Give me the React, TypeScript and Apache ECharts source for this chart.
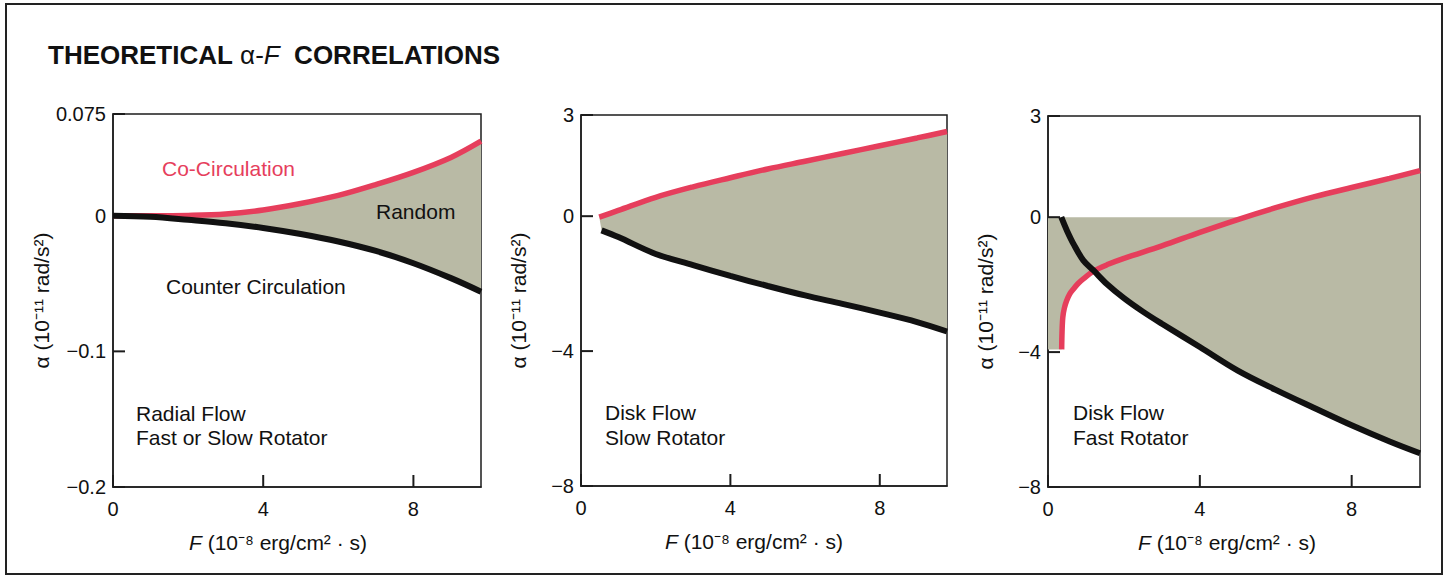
import React, { useEffect, useRef } from 'react';
import * as echarts from 'echarts';

// ---------- data ----------
const F_TICKS = [0, 4, 8];
const F_MIN = 0;
const F_MAX = 9.8;

const P1_Y_TICKS = [0.075, 0, -0.1, -0.2];
const P1_Y_MIN = -0.2;
const P1_Y_MAX = 0.075;
const P23_Y_TICKS = [3, 0, -4, -8];
const P23_Y_MIN = -8;
const P23_Y_MAX = 3;

// Panel 1: Radial flow
const P1_CO: number[][] = [[0, 0], [1, 0], [2, 0.0002], [3, 0.0012], [4, 0.0042], [5, 0.009], [6, 0.015], [7, 0.023], [8, 0.032], [9, 0.043], [9.8, 0.055]];
const P1_COUNTER: number[][] = [[0, 0], [1, -0.0008], [2, -0.003], [3, -0.0055], [4, -0.009], [5, -0.0135], [6, -0.019], [7, -0.026], [8, -0.035], [9, -0.046], [9.8, -0.056]];

// Panel 2: Disk flow, slow rotator
const P2_CO: number[][] = [[0.49, -0.03], [1, 0.17], [2, 0.56], [3, 0.87], [4, 1.14], [5, 1.4], [6, 1.63], [7, 1.86], [8, 2.09], [9, 2.32], [9.8, 2.51]];
const P2_COUNTER: number[][] = [[0.55, -0.42], [1, -0.62], [2, -1.12], [3, -1.45], [4, -1.77], [5, -2.07], [6, -2.35], [7, -2.6], [8, -2.86], [9, -3.14], [9.8, -3.42]];

// Panel 3: Disk flow, fast rotator
const P3_CO: number[][] = [[0.36, -3.92], [0.37, -3.4], [0.39, -2.97], [0.43, -2.7], [0.49, -2.48], [0.57, -2.28], [0.67, -2.13], [0.8, -1.96], [0.93, -1.83], [1.2, -1.6], [1.6, -1.39], [2, -1.22], [3, -0.85], [4, -0.45], [5, -0.07], [6, 0.28], [7, 0.6], [8, 0.88], [9, 1.15], [9.8, 1.38]];
const P3_COUNTER: number[][] = [[0.35, 0], [0.5, -0.4], [0.67, -0.79], [0.93, -1.28], [1.2, -1.58], [1.55, -1.98], [2, -2.4], [2.5, -2.8], [3, -3.16], [4, -3.85], [5, -4.55], [6, -5.12], [7, -5.65], [8, -6.17], [9, -6.65], [9.8, -7.0]];
const P3_CROSS: number[] = [1.2, -1.59]; // where the two curves cross
const P3_ZERO_F = 5.2; // where co-circulation crosses zero

// ---------- styles ----------
const RED = '#e63e5c';
const BLACK = '#111111';
const FILL = '#b9baa5';
const FRAME = '#1c1c1c';
const FONT = '"Liberation Sans", Arial, Helvetica, sans-serif';
const LABEL_SIZE = 21;
const TICK_SIZE = 20;
const TICK_LEN = 12;

function betweenPolygon(upper: number[][], lower: number[][]): number[][] {
  return [...upper, ...lower.slice().reverse()];
}

function panel3Polygon(): number[][] {
  const pts: number[][] = [];
  pts.push([F_MIN, 0]);
  pts.push([P3_ZERO_F, 0]);
  P3_CO.filter((p) => p[0] > P3_ZERO_F).forEach((p) => pts.push(p));
  P3_COUNTER.filter((p) => p[0] > P3_CROSS[0]).reverse().forEach((p) => pts.push(p));
  pts.push(P3_CROSS);
  P3_CO.filter((p) => p[0] < P3_CROSS[0]).reverse().forEach((p) => pts.push(p));
  pts.push([F_MIN, P3_CO[0][1]]);
  return pts;
}

const POLYS = [
  betweenPolygon(P1_CO, P1_COUNTER),
  betweenPolygon(P2_CO, P2_COUNTER),
  panel3Polygon(),
];

const fmt = (v: number) => String(v).replace('-', '\u2212');

export default function App() {
  const ref = useRef<HTMLDivElement>(null);

  useEffect(() => {
    if (!ref.current) return;
    const chart = echarts.init(ref.current, undefined, { renderer: 'svg' });

    const grids = [
      { left: 113, top: 114, width: 368, height: 373 },
      { left: 581, top: 115, width: 366, height: 371 },
      { left: 1048, top: 116, width: 372, height: 371 },
    ].map((g) => ({ ...g, show: true, borderColor: FRAME, borderWidth: 1.5, backgroundColor: 'transparent' }));

    const xNamePad = [[0, 38, 0, 0], [0, 20, 0, 0], [0, 14, 0, 0]];

    const xAxes = [0, 1, 2].map((i) => ({
      type: 'value',
      gridIndex: i,
      min: F_MIN,
      max: F_MAX,
      interval: 4,
      axisLine: { show: true, onZero: false, lineStyle: { color: FRAME, width: 1.5 } },
      axisTick: { show: false },
      axisLabel: { customValues: F_TICKS, margin: 12, fontSize: TICK_SIZE, color: BLACK, fontFamily: FONT, formatter: fmt },
      splitLine: { show: false },
      name: '{i|F} (10\u207B\u2078 erg/cm\u00B2 \u00B7 s)',
      nameLocation: 'middle',
      nameGap: 45,
      nameTextStyle: {
        fontSize: LABEL_SIZE,
        color: BLACK,
        fontFamily: FONT,
        padding: xNamePad[i],
        rich: { i: { fontStyle: 'italic', fontSize: LABEL_SIZE, color: BLACK, fontFamily: FONT } },
      },
    }));

    const yTicks = [P1_Y_TICKS, P23_Y_TICKS, P23_Y_TICKS];
    const yMin = [P1_Y_MIN, P23_Y_MIN, P23_Y_MIN];
    const yMax = [P1_Y_MAX, P23_Y_MAX, P23_Y_MAX];
    const yAxes = [0, 1, 2].map((i) => ({
      type: 'value',
      gridIndex: i,
      min: yMin[i],
      max: yMax[i],
      axisLine: { show: true, onZero: false, lineStyle: { color: FRAME, width: 1.5 } },
      axisTick: { show: false },
      axisLabel: { customValues: yTicks[i], margin: 7, fontSize: TICK_SIZE, color: BLACK, fontFamily: FONT, formatter: fmt },
      splitLine: { show: false },
      name: '\u03B1 (10\u207B\u00B9\u00B9 rad/s\u00B2)',
      nameLocation: 'middle',
      nameRotate: 90,
      nameGap: 52,
      nameTextStyle: { fontSize: LABEL_SIZE, color: BLACK, fontFamily: FONT },
    }));

    const curves = [
      [P1_CO, P1_COUNTER],
      [P2_CO, P2_COUNTER],
      [P3_CO, P3_COUNTER],
    ];

    const series: any[] = [];
    [0, 1, 2].forEach((i) => {
      const poly = POLYS[i];
      series.push({
        type: 'custom',
        xAxisIndex: i,
        yAxisIndex: i,
        silent: true,
        z: 1,
        data: [[poly[0][0], poly[0][1]]],
        renderItem: (_params: any, api: any) => ({
          type: 'polygon',
          shape: { points: poly.map((p) => api.coord(p)) },
          style: { fill: FILL, stroke: 'none' },
        }),
      });
      // inward x ticks on the bottom axis
      series.push({
        type: 'custom',
        xAxisIndex: i,
        yAxisIndex: i,
        silent: true,
        clip: false,
        z: 2,
        data: F_TICKS.map((v) => [v, yMin[i]]),
        renderItem: (_params: any, api: any) => {
          const p = api.coord([api.value(0), api.value(1)]);
          return {
            type: 'line',
            shape: { x1: p[0], y1: p[1], x2: p[0], y2: p[1] - TICK_LEN },
            style: { stroke: FRAME, lineWidth: 2 },
          };
        },
      });
      // inward y ticks on the left axis
      series.push({
        type: 'custom',
        xAxisIndex: i,
        yAxisIndex: i,
        silent: true,
        clip: false,
        z: 2,
        data: yTicks[i].map((v) => [F_MIN, v]),
        renderItem: (_params: any, api: any) => {
          const p = api.coord([api.value(0), api.value(1)]);
          return {
            type: 'line',
            shape: { x1: p[0], y1: p[1], x2: p[0] + TICK_LEN, y2: p[1] },
            style: { stroke: FRAME, lineWidth: 2 },
          };
        },
      });
      series.push({
        type: 'line',
        name: 'Co-Circulation',
        xAxisIndex: i,
        yAxisIndex: i,
        data: curves[i][0],
        showSymbol: false,
        smooth: 0.35,
        clip: false,
        z: 3,
        lineStyle: { color: RED, width: 5.5 },
        silent: true,
      });
      series.push({
        type: 'line',
        name: 'Counter Circulation',
        xAxisIndex: i,
        yAxisIndex: i,
        data: curves[i][1],
        showSymbol: false,
        smooth: 0.35,
        clip: false,
        z: 4,
        lineStyle: { color: BLACK, width: 6 },
        silent: true,
      });
    });

    const txt = (x: number, y: number, text: string, fill = BLACK) => ({
      type: 'text',
      x,
      y,
      silent: true,
      z: 10,
      style: { text, fill, fontSize: LABEL_SIZE, fontFamily: FONT, textVerticalAlign: 'middle', textAlign: 'left' },
    });

    chart.setOption({
      animation: false,
      backgroundColor: '#ffffff',
      title: {
        text: '{b|THEORETICAL }{r|\u03B1-}{i|F}{b|  CORRELATIONS}',
        left: 43,
        top: 37,
        textStyle: {
          rich: {
            b: { fontSize: 26, fontWeight: 'bold', color: BLACK, fontFamily: FONT },
            r: { fontSize: 26, fontWeight: 'normal', color: BLACK, fontFamily: FONT },
            i: { fontSize: 26, fontWeight: 'normal', fontStyle: 'italic', color: BLACK, fontFamily: FONT },
          },
        },
      },
      grid: grids,
      xAxis: xAxes,
      yAxis: yAxes,
      series,
      graphic: [
        {
          type: 'rect',
          silent: true,
          shape: { x: 6, y: 4, width: 1436, height: 570 },
          style: { fill: 'none', stroke: '#222', lineWidth: 2 },
        },
        txt(162, 168, 'Co-Circulation', RED),
        txt(376, 211, 'Random'),
        txt(166, 286, 'Counter Circulation'),
        txt(136, 413, 'Radial Flow'),
        txt(136, 437, 'Fast or Slow Rotator'),
        txt(605, 412, 'Disk Flow'),
        txt(605, 437, 'Slow Rotator'),
        txt(1073, 412, 'Disk Flow'),
        txt(1073, 437, 'Fast Rotator'),
      ],
    });

    return () => chart.dispose();
  }, []);

  return (
    <div
      ref={ref}
      style={{ position: 'absolute', left: 0, top: 0, width: 1450, height: 578, background: '#fff' }}
    />
  );
}
